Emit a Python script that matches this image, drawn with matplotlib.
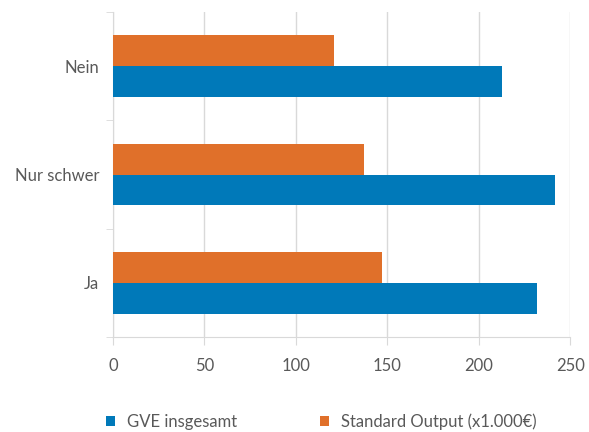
import numpy as np
import matplotlib.pyplot as plt

plt.rcParams['font.family'] = ['Lato', 'DejaVu Sans']

categories = ['Ja', 'Nur schwer', 'Nein']
gve = [231.6, 241.6, 212.5]
standard_output = [147.2, 137.1, 120.6]
series_names = ['GVE insgesamt', 'Standard Output (x1.000€)']
xticks = [0, 50, 100, 150, 200, 250]

blue = '#0079b9'
orange = '#e0702a'
grid_col = '#d9d9d9'
text_col = '#595959'

fig = plt.figure(figsize=(5.89, 4.32), dpi=100)
ax = fig.add_axes([0.1919, 0.2199, 0.7764, 0.7523])

y = np.arange(len(categories))
h = 0.286
ax.barh(y - h / 2, gve, height=h, color=blue, label=series_names[0], zorder=3)
ax.barh(y + h / 2, standard_output, height=h, color=orange, label=series_names[1], zorder=3)

ax.set_xlim(0, 250)
ax.set_ylim(-0.5, 2.5)
ax.set_xticks(xticks)
ax.set_yticks(y)
ax.set_yticklabels(categories)
ax.set_yticks([-0.5, 0.5, 1.5, 2.5], minor=True)

ax.grid(axis='x', color=grid_col, linewidth=1, zorder=0)
for s in ['top', 'right']:
    ax.spines[s].set_visible(False)
ax.spines['left'].set_color(grid_col)
ax.spines['bottom'].set_color(grid_col)

ax.tick_params(axis='x', length=6, color=grid_col, labelcolor=text_col,
               labelsize=12, pad=9)
ax.tick_params(axis='y', which='major', length=0, labelcolor=text_col,
               labelsize=12, pad=10)
ax.tick_params(axis='y', which='minor', length=5, color=grid_col)

fig.legend(loc='center left', bbox_to_anchor=(0.1545, 0.0238), ncol=2, frameon=False,
           fontsize=12, labelcolor=text_col, handlelength=0.54, handleheight=0.54,
           handletextpad=0.72, columnspacing=5.0)

fig.savefig('out.png', dpi=100)
